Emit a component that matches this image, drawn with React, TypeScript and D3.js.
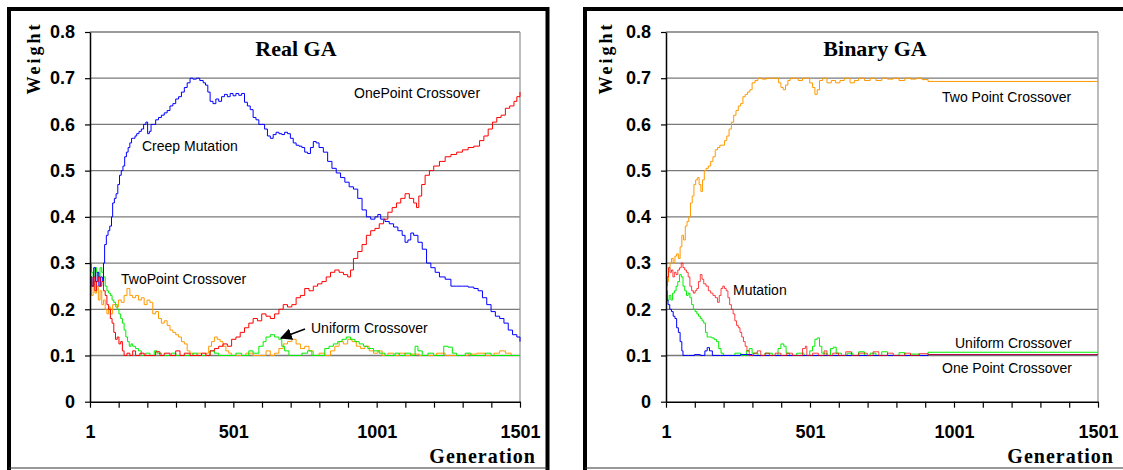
import React, { useEffect, useRef } from "react";
import * as d3 from "d3";

type Pt = [number, number];

// generation ticks and weight ticks
const xTickValues = [1, 101, 201, 301, 401, 501, 601, 701, 801, 901, 1001, 1101, 1201, 1301, 1401, 1501];
const xTickLabels = ["1", "501", "1001", "1501"];
const yTickValues = [0, 0.1, 0.2, 0.3, 0.4, 0.5, 0.6, 0.7, 0.8];
const yTickLabels = ["0", "0.1", "0.2", "0.3", "0.4", "0.5", "0.6", "0.7", "0.8"];

// ---- Real GA ----
const realCreepMutation: Pt[] = [[1,0.27],[8,0.25],[14,0.29],[20,0.26],[26,0.28],[32,0.25],[38,0.27],[44,0.26],[48,0.30],[52,0.34],[58,0.36],[64,0.37],[70,0.38],[76,0.40],[80,0.43],[86,0.44],[92,0.45],[98,0.47],[104,0.49],[110,0.50],[116,0.51],[122,0.53],[128,0.54],[134,0.55],[140,0.56],[146,0.57],[152,0.57],[158,0.575],[164,0.58],[172,0.585],[180,0.59],[188,0.60],[196,0.605],[202,0.58],[208,0.585],[214,0.60],[222,0.60],[230,0.61],[240,0.615],[250,0.62],[260,0.625],[270,0.63],[280,0.64],[290,0.645],[300,0.655],[310,0.66],[320,0.67],[330,0.68],[340,0.69],[350,0.70],[360,0.698],[372,0.70],[384,0.695],[396,0.69],[404,0.685],[412,0.67],[420,0.65],[430,0.645],[440,0.655],[450,0.65],[460,0.66],[470,0.665],[480,0.66],[490,0.667],[500,0.662],[510,0.667],[520,0.663],[530,0.667],[540,0.648],[550,0.64],[560,0.632],[570,0.615],[580,0.61],[590,0.60],[600,0.60],[610,0.59],[620,0.575],[630,0.57],[640,0.578],[650,0.583],[660,0.58],[670,0.578],[680,0.583],[690,0.58],[700,0.57],[710,0.56],[720,0.555],[730,0.553],[740,0.55],[750,0.54],[760,0.537],[770,0.55],[780,0.563],[790,0.56],[800,0.55],[815,0.54],[830,0.52],[845,0.505],[860,0.495],[875,0.485],[890,0.475],[905,0.465],[920,0.46],[935,0.44],[950,0.415],[965,0.40],[980,0.395],[995,0.40],[1005,0.405],[1015,0.395],[1030,0.39],[1045,0.385],[1060,0.378],[1075,0.37],[1090,0.36],[1100,0.345],[1110,0.35],[1120,0.365],[1130,0.36],[1145,0.345],[1160,0.33],[1175,0.30],[1190,0.29],[1205,0.28],[1220,0.27],[1240,0.265],[1260,0.25],[1280,0.25],[1300,0.25],[1320,0.248],[1340,0.245],[1355,0.24],[1370,0.225],[1385,0.21],[1400,0.195],[1415,0.185],[1430,0.18],[1445,0.17],[1460,0.155],[1475,0.145],[1490,0.14],[1501,0.13]];

const realOnePoint: Pt[] = [[1,0.27],[6,0.25],[12,0.27],[18,0.24],[24,0.26],[30,0.27],[36,0.25],[42,0.26],[48,0.24],[54,0.23],[60,0.21],[66,0.20],[72,0.18],[78,0.17],[84,0.15],[90,0.135],[96,0.14],[102,0.125],[108,0.13],[114,0.11],[120,0.10],[130,0.105],[140,0.10],[150,0.11],[160,0.10],[175,0.105],[190,0.10],[210,0.10],[230,0.108],[245,0.10],[260,0.105],[280,0.10],[300,0.11],[315,0.10],[330,0.105],[350,0.10],[370,0.10],[390,0.105],[405,0.10],[420,0.11],[435,0.115],[450,0.12],[465,0.125],[480,0.12],[495,0.135],[510,0.14],[525,0.15],[540,0.16],[555,0.17],[570,0.18],[585,0.175],[600,0.19],[615,0.185],[630,0.18],[645,0.19],[660,0.20],[675,0.21],[690,0.205],[705,0.21],[720,0.225],[735,0.23],[750,0.245],[765,0.24],[780,0.25],[795,0.255],[810,0.26],[825,0.27],[840,0.28],[855,0.285],[870,0.28],[885,0.275],[900,0.27],[910,0.285],[920,0.31],[935,0.325],[950,0.34],[965,0.36],[980,0.37],[995,0.375],[1010,0.385],[1025,0.395],[1040,0.41],[1055,0.42],[1070,0.43],[1085,0.44],[1100,0.45],[1115,0.44],[1130,0.43],[1140,0.42],[1148,0.445],[1158,0.47],[1170,0.49],[1185,0.50],[1200,0.51],[1220,0.52],[1240,0.53],[1260,0.535],[1280,0.54],[1300,0.545],[1320,0.55],[1340,0.553],[1360,0.565],[1375,0.575],[1390,0.59],[1405,0.605],[1420,0.615],[1435,0.62],[1450,0.635],[1465,0.64],[1480,0.65],[1490,0.66],[1501,0.67]];

const realTwoPoint: Pt[] = [[1,0.25],[6,0.23],[12,0.26],[18,0.235],[24,0.25],[30,0.22],[36,0.24],[42,0.21],[48,0.22],[54,0.20],[60,0.19],[66,0.205],[72,0.19],[80,0.21],[90,0.205],[100,0.22],[110,0.215],[120,0.23],[130,0.245],[140,0.23],[150,0.225],[160,0.23],[170,0.22],[180,0.225],[190,0.21],[200,0.22],[210,0.215],[220,0.19],[230,0.195],[240,0.18],[250,0.17],[260,0.175],[270,0.165],[280,0.155],[290,0.15],[300,0.145],[310,0.14],[320,0.13],[330,0.125],[340,0.11],[350,0.105],[360,0.10],[375,0.105],[390,0.10],[405,0.105],[415,0.12],[425,0.13],[435,0.14],[445,0.135],[455,0.13],[465,0.12],[475,0.11],[485,0.105],[495,0.10],[520,0.10],[545,0.105],[570,0.10],[600,0.10],[615,0.11],[630,0.10],[645,0.105],[660,0.115],[675,0.125],[690,0.13],[705,0.135],[720,0.125],[735,0.115],[750,0.12],[765,0.11],[780,0.10],[800,0.105],[820,0.10],[840,0.11],[855,0.12],[870,0.13],[885,0.125],[900,0.135],[915,0.13],[930,0.12],[945,0.115],[960,0.12],[975,0.11],[990,0.105],[1005,0.11],[1020,0.10],[1040,0.105],[1060,0.10],[1080,0.105],[1100,0.10],[1120,0.103],[1150,0.10],[1180,0.10],[1210,0.105],[1240,0.10],[1280,0.10],[1320,0.103],[1350,0.105],[1380,0.10],[1410,0.105],[1430,0.11],[1450,0.105],[1470,0.10],[1501,0.10]];

const realUniform: Pt[] = [[1,0.30],[6,0.28],[12,0.27],[18,0.29],[24,0.28],[30,0.27],[36,0.29],[42,0.28],[48,0.27],[54,0.25],[60,0.24],[66,0.235],[72,0.23],[78,0.22],[84,0.215],[90,0.21],[96,0.20],[102,0.19],[108,0.18],[114,0.17],[120,0.155],[126,0.14],[132,0.13],[138,0.12],[144,0.125],[150,0.12],[160,0.115],[170,0.11],[180,0.10],[195,0.105],[210,0.10],[225,0.11],[235,0.105],[250,0.10],[270,0.10],[285,0.105],[300,0.10],[330,0.10],[360,0.105],[375,0.10],[400,0.10],[420,0.11],[435,0.105],[450,0.10],[480,0.10],[510,0.105],[530,0.10],[555,0.11],[570,0.105],[590,0.12],[605,0.13],[615,0.14],[630,0.145],[645,0.14],[660,0.135],[670,0.12],[680,0.11],[695,0.10],[720,0.10],[740,0.105],[760,0.11],[775,0.10],[800,0.10],[820,0.115],[835,0.12],[850,0.125],[865,0.13],[880,0.135],[895,0.14],[910,0.135],[925,0.13],[940,0.125],[955,0.12],[970,0.115],[990,0.11],[1010,0.105],[1030,0.10],[1050,0.10],[1065,0.105],[1080,0.10],[1100,0.105],[1120,0.10],[1135,0.12],[1145,0.11],[1160,0.10],[1180,0.105],[1200,0.10],[1220,0.10],[1235,0.12],[1250,0.118],[1265,0.105],[1280,0.10],[1310,0.105],[1330,0.10],[1360,0.10],[1380,0.105],[1400,0.10],[1501,0.10]];

// ---- Binary GA ----
const binTwoPoint: Pt[] = [[1,0.22],[5,0.26],[10,0.29],[15,0.30],[20,0.31],[26,0.30],[32,0.315],[38,0.32],[44,0.31],[50,0.335],[56,0.36],[62,0.35],[68,0.38],[74,0.39],[80,0.40],[86,0.43],[92,0.445],[98,0.47],[104,0.48],[110,0.485],[116,0.47],[122,0.455],[128,0.48],[134,0.50],[140,0.505],[148,0.51],[156,0.52],[164,0.53],[172,0.545],[180,0.55],[188,0.555],[196,0.555],[204,0.565],[212,0.575],[220,0.59],[228,0.605],[236,0.62],[244,0.63],[252,0.64],[260,0.645],[268,0.66],[276,0.665],[284,0.67],[292,0.675],[300,0.69],[310,0.695],[320,0.70],[335,0.698],[350,0.70],[365,0.70],[380,0.70],[392,0.69],[400,0.68],[408,0.675],[416,0.685],[424,0.695],[432,0.70],[445,0.70],[460,0.695],[475,0.70],[490,0.70],[500,0.69],[510,0.68],[518,0.665],[526,0.675],[534,0.695],[545,0.70],[560,0.69],[575,0.695],[590,0.69],[605,0.695],[620,0.70],[640,0.69],[655,0.695],[670,0.70],[690,0.695],[710,0.70],[730,0.695],[750,0.70],[770,0.698],[790,0.70],[810,0.695],[830,0.70],[850,0.698],[870,0.70],[890,0.697],[911,0.693],[1501,0.693]];

const binMutation: Pt[] = [[1,0.25],[5,0.27],[10,0.29],[15,0.28],[20,0.285],[25,0.27],[30,0.28],[36,0.275],[42,0.285],[48,0.29],[54,0.30],[60,0.29],[66,0.285],[72,0.28],[78,0.27],[84,0.25],[90,0.24],[96,0.235],[102,0.24],[108,0.245],[114,0.26],[120,0.275],[126,0.265],[132,0.255],[140,0.25],[148,0.24],[156,0.235],[164,0.23],[172,0.225],[180,0.215],[186,0.23],[192,0.245],[198,0.25],[204,0.245],[210,0.24],[216,0.225],[222,0.21],[228,0.20],[234,0.19],[240,0.175],[246,0.165],[252,0.16],[258,0.15],[264,0.14],[270,0.13],[276,0.12],[282,0.11],[290,0.10],[305,0.105],[318,0.11],[330,0.10],[345,0.105],[360,0.10],[380,0.105],[400,0.10],[420,0.105],[440,0.10],[460,0.10],[475,0.115],[485,0.12],[490,0.10],[510,0.105],[530,0.10],[550,0.11],[560,0.10],[580,0.105],[600,0.10],[625,0.108],[645,0.10],[670,0.105],[700,0.10],[720,0.108],[740,0.10],[770,0.105],[790,0.10],[830,0.105],[850,0.10],[880,0.104],[911,0.102],[1501,0.102]];

const binUniform: Pt[] = [[1,0.24],[6,0.22],[12,0.23],[18,0.22],[24,0.235],[30,0.24],[36,0.25],[42,0.26],[48,0.275],[54,0.27],[60,0.25],[66,0.24],[72,0.23],[78,0.235],[84,0.225],[90,0.21],[96,0.20],[102,0.195],[108,0.19],[114,0.185],[120,0.18],[126,0.175],[132,0.17],[138,0.15],[144,0.14],[152,0.14],[160,0.138],[168,0.135],[176,0.13],[184,0.115],[192,0.105],[200,0.10],[220,0.10],[240,0.105],[260,0.10],[280,0.11],[290,0.115],[300,0.105],[320,0.10],[345,0.105],[370,0.10],[390,0.115],[400,0.125],[410,0.12],[418,0.105],[430,0.10],[455,0.105],[480,0.10],[500,0.11],[510,0.12],[518,0.135],[526,0.138],[534,0.12],[542,0.105],[560,0.10],[572,0.115],[582,0.118],[592,0.105],[610,0.10],[630,0.105],[650,0.10],[670,0.108],[690,0.10],[710,0.105],[730,0.10],[750,0.108],[770,0.10],[790,0.10],[810,0.106],[830,0.10],[850,0.103],[880,0.10],[905,0.10],[911,0.107],[1501,0.107]];

const binOnePoint: Pt[] = [[1,0.24],[4,0.22],[8,0.21],[14,0.20],[20,0.195],[26,0.185],[32,0.18],[38,0.16],[44,0.15],[50,0.13],[56,0.11],[60,0.10],[80,0.10],[100,0.102],[120,0.10],[136,0.11],[144,0.117],[152,0.11],[162,0.10],[190,0.10],[220,0.10],[260,0.102],[300,0.10],[340,0.10],[380,0.10],[420,0.10],[460,0.10],[500,0.10],[560,0.10],[620,0.10],[700,0.10],[800,0.10],[911,0.102],[1501,0.102]];

const TOP = 32;
const BOTTOM = 401.7;
const ARIAL = "'Liberation Sans', Arial, sans-serif";
const TIMES = "'Liberation Serif', 'Times New Roman', serif";

const panels = [
  {
    key: "real",
    left: 90, right: 520,
    frame: [9, 547.5],
    title: "Real GA", titleX: 296,
    weightX: 34,
    series: [
      { data: realTwoPoint, color: "#ff9900" },
      { data: realUniform, color: "#00ee00" },
      { data: realCreepMutation, color: "#0000ff" },
      { data: realOnePoint, color: "#ff0000" },
    ],
    labels: [
      { text: "OnePoint Crossover", x: 354, y: 98 },
      { text: "Creep Mutation", x: 142, y: 151 },
      { text: "TwoPoint Crossover", x: 121, y: 284 },
      { text: "Uniform Crossover", x: 311, y: 333 },
    ],
    arrow: true,
  },
  {
    key: "binary",
    left: 666, right: 1098,
    frame: [585, 1140],
    title: "Binary GA", titleX: 875,
    weightX: 606,
    series: [
      { data: binTwoPoint, color: "#ff9900" },
      { data: binUniform, color: "#00ee00" },
      { data: binOnePoint, color: "#0000ff" },
      { data: binMutation, color: "#ff0000", opacity: 0.75 },
    ],
    labels: [
      { text: "Two Point Crossover", x: 942, y: 102 },
      { text: "Mutation", x: 733, y: 295 },
      { text: "Uniform Crossover", x: 955, y: 348 },
      { text: "One Point Crossover", x: 942, y: 373 },
    ],
    arrow: false,
  },
];

function Panel({ p }: { p: any }) {
  const ref = useRef<SVGGElement>(null);

  useEffect(() => {
    const g = d3.select(ref.current);
    g.selectAll("*").remove();

    const x = d3.scaleLinear().domain([1, 1501]).range([p.left, p.right]);
    const y = d3.scaleLinear().domain([0, 0.8]).range([BOTTOM, TOP]);

    // outer frame
    g.append("path")
      .attr("d", `M${p.frame[0]},470 V9 H${p.frame[1]} V470`)
      .attr("fill", "none").attr("stroke", "#000").attr("stroke-width", 4);
    g.append("line")
      .attr("x1", p.frame[0]).attr("x2", p.frame[1]).attr("y1", 468).attr("y2", 468)
      .attr("stroke", "#333").attr("stroke-width", 1.2);

    // grid
    g.append("g").selectAll("line")
      .data(yTickValues.filter(v => v > 0))
      .join("line")
      .attr("x1", p.left).attr("x2", p.right)
      .attr("y1", d => y(d)).attr("y2", d => y(d))
      .attr("stroke", "#7a7a7a").attr("stroke-width", 1.3);
    g.append("line")
      .attr("x1", p.right).attr("x2", p.right).attr("y1", TOP).attr("y2", BOTTOM)
      .attr("stroke", "#999").attr("stroke-width", 1.3);

    // series
    const line = d3.line<Pt>().x(d => x(d[0])).y(d => y(d[1])).curve(d3.curveStepAfter);
    p.series.forEach((s: any) => {
      g.append("path")
        .attr("d", line(s.data))
        .attr("fill", "none")
        .attr("stroke", s.color)
        .attr("stroke-opacity", s.opacity ?? 1)
        .attr("stroke-width", 1);
    });

    // axes
    const yAxis = g.append("g")
      .attr("transform", `translate(${p.left},0)`)
      .call(d3.axisLeft(y).tickValues(yTickValues).tickSize(5).tickSizeOuter(0).tickPadding(10)
        .tickFormat((d, i) => yTickLabels[i]));
    const xAxis = g.append("g")
      .attr("transform", `translate(0,${BOTTOM})`)
      .call(d3.axisBottom(x).tickValues(xTickValues).tickSize(6).tickSizeOuter(0).tickPadding(18)
        .tickFormat(d => (xTickLabels.includes(String(d)) ? String(d) : "")));
    [yAxis, xAxis].forEach(a => {
      a.select(".domain").attr("stroke", "#000").attr("stroke-width", 1.5);
      a.selectAll(".tick line").attr("stroke", "#000").attr("stroke-width", 1.2);
      a.selectAll("text")
        .attr("fill", "#000")
        .style("font-family", ARIAL)
        .style("font-weight", "bold")
        .style("font-size", "18px");
    });

    // titles
    g.append("text")
      .attr("x", p.titleX).attr("y", 56)
      .attr("text-anchor", "middle")
      .style("font-family", TIMES).style("font-weight", "bold").style("font-size", "22px")
      .text(p.title);
    g.append("text")
      .attr("transform", `translate(${p.weightX},58) rotate(-90)`)
      .attr("text-anchor", "middle")
      .attr("dy", "0.35em")
      .style("font-family", TIMES).style("font-weight", "bold").style("font-size", "18px")
      .style("letter-spacing", "3px")
      .text("Weight");
    g.append("text")
      .attr("x", p.frame[0] === 9 ? 536 : 1114).attr("y", 463)
      .attr("text-anchor", "end")
      .style("font-family", TIMES).style("font-weight", "bold").style("font-size", "20px")
      .style("letter-spacing", "1px")
      .text("Generation");

    // series labels
    g.append("g").selectAll("text")
      .data(p.labels)
      .join("text")
      .attr("x", (d: any) => d.x).attr("y", (d: any) => d.y)
      .style("font-family", ARIAL).style("font-size", "14px")
      .text((d: any) => d.text);

    if (p.arrow) {
      g.append("defs").append("marker")
        .attr("id", "arrowhead")
        .attr("viewBox", "0 0 10 10").attr("refX", 9).attr("refY", 5)
        .attr("markerWidth", 8).attr("markerHeight", 8).attr("orient", "auto")
        .append("path").attr("d", "M0,0 L10,5 L0,10 z").attr("fill", "#000");
      g.append("line")
        .attr("x1", 305).attr("y1", 329).attr("x2", 281).attr("y2", 338)
        .attr("stroke", "#000").attr("stroke-width", 1.5)
        .attr("marker-end", "url(#arrowhead)");
    }
  }, []);

  return <g ref={ref} />;
}

export default function App() {
  return (
    <svg width={1123} height={470} style={{ position: "absolute", left: 0, top: 0, background: "#fff" }}>
      <rect width={1123} height={470} fill="#fff" />
      {panels.map(p => <Panel key={p.key} p={p} />)}
    </svg>
  );
}
